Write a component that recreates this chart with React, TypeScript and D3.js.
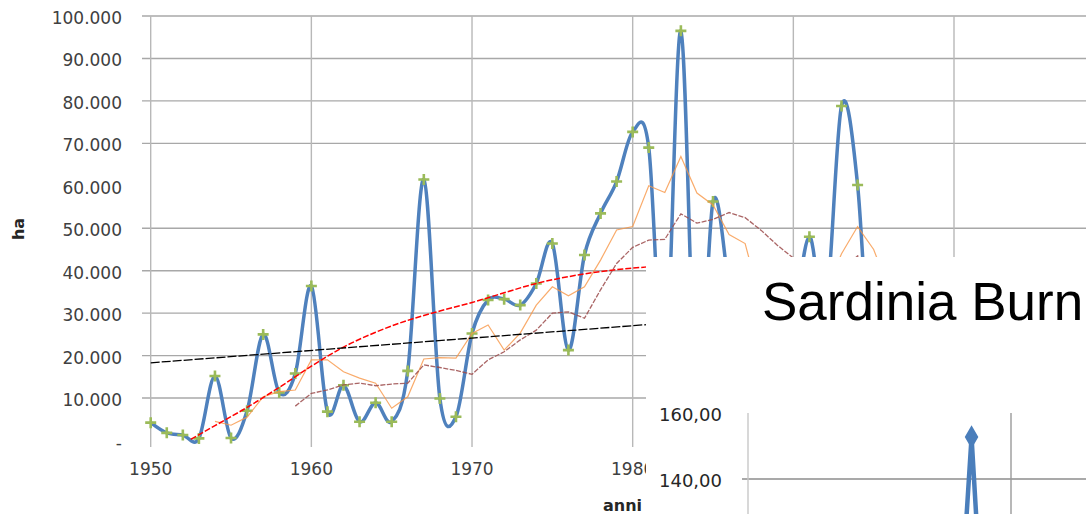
import * as d3 from "d3";

// yearly burned area, Sardinia (ha)
const years = [
  1950, 1951, 1952, 1953, 1954, 1955, 1956, 1957, 1958, 1959,
  1960, 1961, 1962, 1963, 1964, 1965, 1966, 1967, 1968, 1969,
  1970, 1971, 1972, 1973, 1974, 1975, 1976, 1977, 1978, 1979,
  1980, 1981, 1982, 1983, 1984, 1985, 1986, 1987, 1988, 1989,
  1990, 1991, 1992, 1993, 1994, 1995, 1996,
];
const burnedHa = [
  4200, 1800, 1300, 500, 15200, 600, 7000, 25000, 11300, 15800,
  36400, 6800, 13000, 4400, 8900, 4400, 16400, 61500, 9900, 5600,
  25200, 33100, 33300, 31900, 37000, 46400, 21300, 43700, 53500, 61000,
  72700, 69000, 14000, 96500, 5000, 56300, 36000, 10000, 18000, 15000,
  28000, 48000, 30000, 78800, 60200, 5000, 15000,
];
// short moving average (orange), from 1954
const shortAvg = [
  4500, 3600, 5500, 10300, 11500, 11900, 19000, 19000, 16200, 14700,
  13500, 7600, 10300, 19200, 19500, 19400, 25200, 27200, 21300, 25300,
  31900, 36200, 34100, 36200, 42500, 49600, 50400, 60000, 58400, 66900,
  58300, 55500, 48500, 46400, 32000, 30000, 30000, 34000, 35000, 44000,
  50400, 45000, 35000,
];
// long moving average (brown), from 1959
const longAvg = [
  8100, 11100, 11900, 13100, 13500, 12900, 13300, 13500, 17800, 17200,
  16500, 15600, 19000, 20900, 23700, 26000, 30000, 30300, 28800, 35500,
  41700, 45500, 47200, 47400, 53400, 51200, 52100, 53700, 52500, 49500,
  46000, 43000, 38000, 36000, 40000, 43500, 40000, 37000,
];
// polynomial trend (red dashed)
const polyYears = [1952.5, 1954, 1956, 1958, 1960, 1962, 1964, 1966, 1968, 1970, 1972, 1974, 1976, 1978, 1980, 1982, 1984];
const polyVals = [300, 3500, 7800, 12500, 17500, 22000, 25500, 28300, 30500, 32500, 34800, 37000, 38600, 39800, 40600, 41200, 41500];
// linear trend (black)
const linYears = [1950, 1985];
const linVals = [18300, 28500];

const yTicks = [0, 10000, 20000, 30000, 40000, 50000, 60000, 70000, 80000, 90000, 100000];
const yNoGrid = [0, 60000];
const xTicks = [1950, 1960, 1970, 1980, 1990, 2000];

// pasted second chart (partly visible)
const innerTitle = "Sardinia Burn";
const innerTicks = [140, 160];
const innerXTicks = [1960, 1980];
const innerYears = [1976, 1977, 1978];
const innerVals = [90, 152.7, 85];

const itLocale = d3.formatLocale({ decimal: ",", thousands: ".", grouping: [3], currency: ["", " €"] });
const fmtY = itLocale.format(",");
const fmtInner = itLocale.format(",.2f");

export default function App() {
  const W = 1086;
  const H = 514;

  const x = d3.scaleLinear().domain([1950, 2000]).range([150.7, 954]);
  const y = d3.scaleLinear().domain([0, 100000]).range([440.5, 16]);
  const plotLeft = 142;

  const smooth = d3
    .line<[number, number]>()
    .x((d) => x(d[0]))
    .y((d) => y(d[1]))
    .curve(d3.curveCardinal.tension(0));
  const straight = d3
    .line<[number, number]>()
    .x((d) => x(d[0]))
    .y((d) => y(d[1]));
  const soft = d3
    .line<[number, number]>()
    .x((d) => x(d[0]))
    .y((d) => y(d[1]))
    .curve(d3.curveMonotoneX);

  const blue = years.map((yr, i) => [yr, burnedHa[i]] as [number, number]);
  const orange = shortAvg.map((v, i) => [years[i + 4], v] as [number, number]);
  const brown = longAvg.map((v, i) => [years[i + 9], v] as [number, number]);
  const poly = polyYears.map((yr, i) => [yr, polyVals[i]] as [number, number]);
  const lin = linYears.map((yr, i) => [yr, linVals[i]] as [number, number]);

  const ix = d3.scaleLinear().domain([1960, 1980]).range([748, 1011]);
  const iy = d3.scaleLinear().domain([140, 160]).range([479, 413]);
  const innerLine = d3
    .line<[number, number]>()
    .x((d) => ix(d[0]))
    .y((d) => iy(d[1]));
  const inner = innerYears.map((yr, i) => [yr, innerVals[i]] as [number, number]);
  const diamond = d3.symbol(d3.symbolDiamond, 110)();

  const tickFont = "'DejaVu Sans', sans-serif";

  return (
    <svg
      width={W}
      height={H}
      style={{ position: "absolute", left: 0, top: 0, background: "#fff" }}
    >
      {/* grid */}
      {yTicks
        .filter((t) => !yNoGrid.includes(t))
        .map((t) => (
          <line key={t} x1={plotLeft} x2={W} y1={y(t)} y2={y(t)} stroke="#a8a8a8" strokeWidth={1.4} />
        ))}
      {xTicks.map((t) => (
        <line key={t} x1={x(t)} x2={x(t)} y1={y(100000)} y2={447} stroke="#b8b8b8" strokeWidth={1.4} />
      ))}

      {/* y labels */}
      {yTicks.map((t) => (
        <text
          key={t}
          x={122}
          y={y(t) + 2}
          textAnchor="end"
          dominantBaseline="central"
          fontFamily={tickFont}
          fontSize={17}
          fill="#404040"
        >
          {t === 0 ? "-" : fmtY(t)}
        </text>
      ))}
      {/* x labels */}
      {xTicks.map((t) => (
        <text key={t} x={x(t)} y={475} textAnchor="middle" fontFamily={tickFont} fontSize={17} fill="#404040">
          {t}
        </text>
      ))}
      <text x={603} y={511} fontFamily={tickFont} fontWeight="bold" fontSize={16} fill="#262626">
        anni
      </text>
      <text
        transform="translate(24,229) rotate(-90)"
        textAnchor="middle"
        fontFamily={tickFont}
        fontWeight="bold"
        fontSize={16}
        fill="#262626"
      >
        ha
      </text>

      {/* series */}
      <path d={smooth(blue)!} fill="none" stroke="#4f81bd" strokeWidth={3.5} strokeLinejoin="round" />
      {blue.map(([yr, v]) => (
        <path
          key={yr}
          transform={`translate(${x(yr)},${y(v)})`}
          d="M-5.5,0H5.5M0,-5.5V5.5"
          stroke="#9bbb59"
          strokeWidth={2.6}
        />
      ))}
      <path d={straight(orange)!} fill="none" stroke="#f79646" strokeOpacity={0.8} strokeWidth={1.2} />
      <path d={straight(brown)!} fill="none" stroke="#9b4a4a" strokeOpacity={0.85} strokeWidth={1.3} strokeDasharray="5,1.5" />
      <path d={soft(poly)!} fill="none" stroke="#ff0000" strokeWidth={1.5} strokeDasharray="6,2" />
      <path d={straight(lin)!} fill="none" stroke="#000" strokeWidth={1.3} strokeDasharray="9,2" />

      {/* pasted chart covering the lower right */}
      <rect x={646} y={257} width={W - 646} height={H - 257} fill="#fff" />
      <text x={762} y={320} fontFamily="'Liberation Sans', Arial, sans-serif" fontSize={53} fill="#000">
        {innerTitle}
      </text>
      <line x1={742} x2={W} y1={iy(140)} y2={iy(140)} stroke="#8c8c8c" strokeWidth={1.4} />
      {innerXTicks.map((t, i) => (
        <line
          key={t}
          x1={ix(t)}
          x2={ix(t)}
          y1={iy(160)}
          y2={H}
          stroke={i === 0 ? "#c8c8c8" : "#9a9a9a"}
          strokeWidth={1.4}
        />
      ))}
      {innerTicks.map((t) => (
        <text
          key={t}
          x={722}
          y={iy(t) + 1}
          textAnchor="end"
          dominantBaseline="central"
          fontFamily={tickFont}
          fontSize={18}
          fill="#262626"
        >
          {fmtInner(t)}
        </text>
      ))}
      <path d={innerLine(inner)!} fill="none" stroke="#4a7ebb" strokeWidth={4.5} strokeLinejoin="round" />
      {inner.map(([yr, v]) => (
        <path key={yr} d={diamond!} transform={`translate(${ix(yr)},${iy(v)})`} fill="#4a7ebb" stroke="#4a7ebb" strokeWidth={2} />
      ))}
    </svg>
  );
}
